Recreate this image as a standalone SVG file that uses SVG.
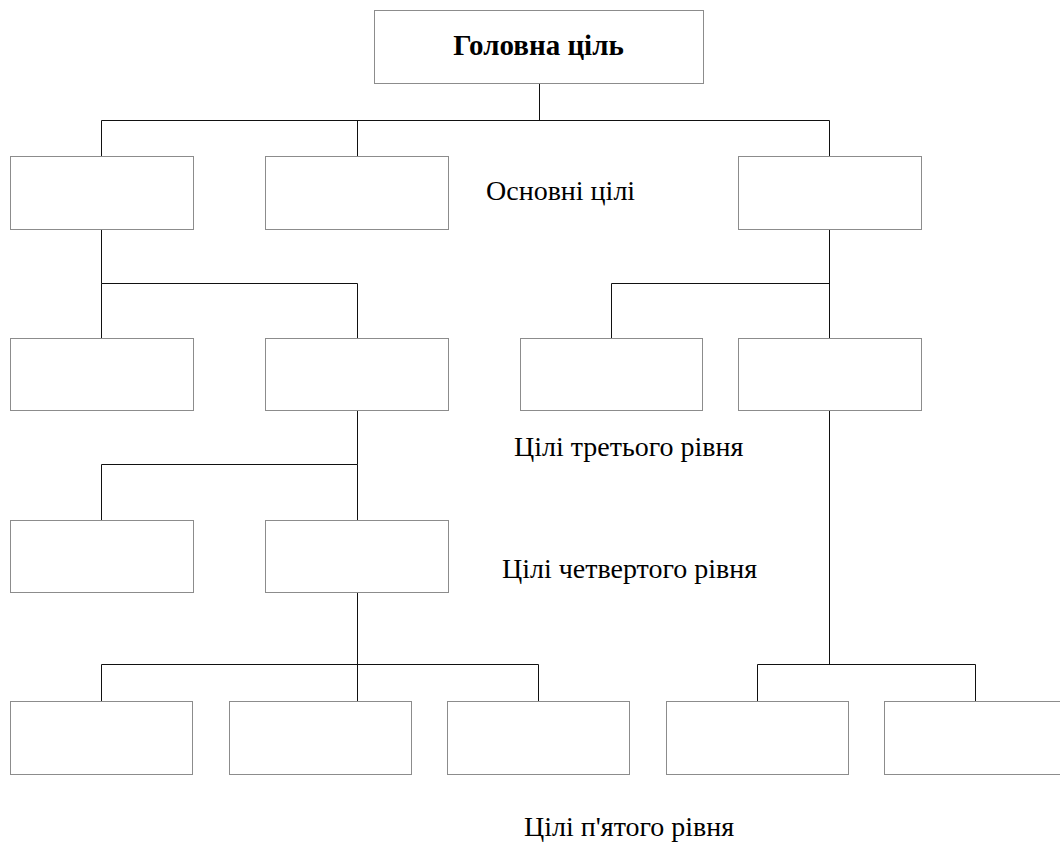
<svg xmlns="http://www.w3.org/2000/svg" width="1060" height="845" viewBox="0 0 1060 845">
  <style>
    .box { fill: #ffffff; stroke: #8c8c8c; stroke-width: 1; }
    .link { fill: none; stroke: #111111; stroke-width: 1; }
    .label { font-family: "Liberation Serif", "Times New Roman", serif; font-size: 28px; fill: #000000; }
    .title { font-family: "Liberation Serif", "Times New Roman", serif; font-size: 29px; font-weight: bold; fill: #000000; }
  </style>
  <rect width="1060" height="845" fill="#ffffff"/>

  <!-- connectors -->
  <g id="connectors" class="link">
    <path d="M539.5 83 V120.5"/>
    <path d="M101.5 156 V120.5 H829.5 V156"/>
    <path d="M357.5 120.5 V156"/>
    <path d="M101.5 229 V283.5 H357.5 V338"/>
    <path d="M101.5 283.5 V338"/>
    <path d="M829.5 229 V664.5"/>
    <path d="M611.5 338 V283.5 H829.5"/>
    <path d="M357.5 410 V464.5 H101.5 V520"/>
    <path d="M357.5 464.5 V520"/>
    <path d="M357.5 592 V701"/>
    <path d="M101.5 701 V664.5 H538.5 V701"/>
    <path d="M757.5 701 V664.5 H975.5 V701"/>
  </g>

  <!-- root goal -->
  <g id="root">
    <rect class="box" x="374.5" y="10.5" width="329" height="73"/>
    <text class="title" x="538.5" y="55" text-anchor="middle">Головна ціль</text>
  </g>

  <!-- level 1: main goals -->
  <g id="l1a"><rect class="box" x="10.5" y="156.5" width="183" height="73"/></g>
  <g id="l1b"><rect class="box" x="265.5" y="156.5" width="183" height="73"/></g>
  <g id="l1c"><rect class="box" x="738.5" y="156.5" width="183" height="73"/></g>

  <!-- level 2 -->
  <g id="l2a"><rect class="box" x="10.5" y="338.5" width="183" height="72"/></g>
  <g id="l2b"><rect class="box" x="265.5" y="338.5" width="183" height="72"/></g>
  <g id="l2c"><rect class="box" x="520.5" y="338.5" width="182" height="72"/></g>
  <g id="l2d"><rect class="box" x="738.5" y="338.5" width="183" height="72"/></g>

  <!-- level 3 -->
  <g id="l3a"><rect class="box" x="10.5" y="520.5" width="183" height="72"/></g>
  <g id="l3b"><rect class="box" x="265.5" y="520.5" width="183" height="72"/></g>

  <!-- level 4 -->
  <g id="l4a"><rect class="box" x="10.5" y="701.5" width="182" height="73"/></g>
  <g id="l4b"><rect class="box" x="229.5" y="701.5" width="182" height="73"/></g>
  <g id="l4c"><rect class="box" x="447.5" y="701.5" width="182" height="73"/></g>
  <g id="l4d"><rect class="box" x="666.5" y="701.5" width="182" height="73"/></g>
  <g id="l4e"><rect class="box" x="884.5" y="701.5" width="182" height="73"/></g>

  <!-- level captions -->
  <g id="captions">
    <text class="label" x="486" y="200">Основні цілі</text>
    <text class="label" x="514" y="456">Цілі третього рівня</text>
    <text class="label" x="502" y="578">Цілі четвертого рівня</text>
    <text class="label" x="524" y="836">Цілі п'ятого рівня</text>
  </g>
</svg>
